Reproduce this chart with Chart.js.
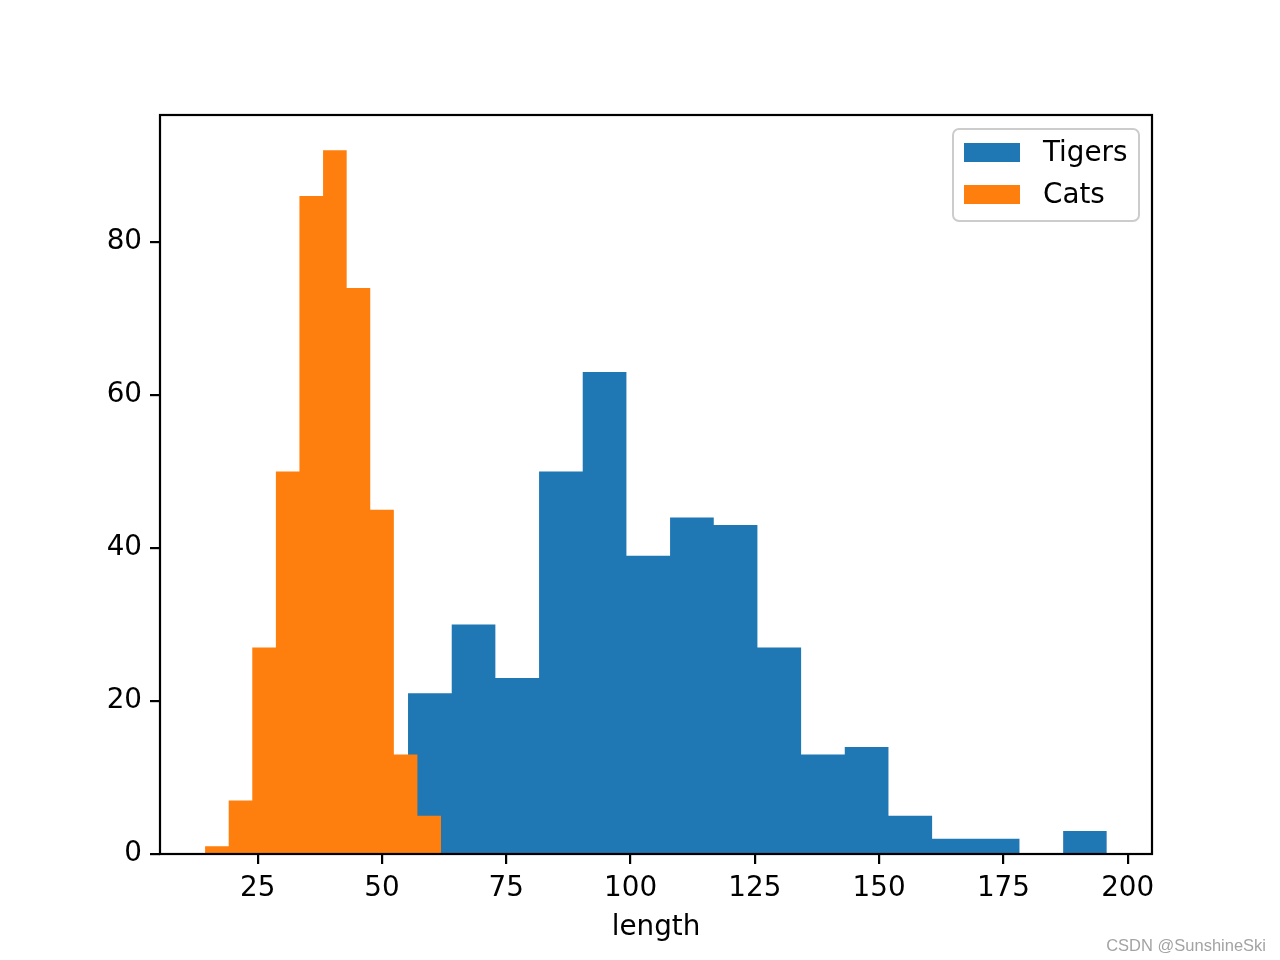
<!DOCTYPE html>
<html>
<head>
<meta charset="utf-8">
<title>Tigers and Cats</title>
<script src="https://cdn.jsdelivr.net/npm/chart.js@4/dist/chart.umd.min.js"></script>
<style>
    body { margin: 0; background: #fff; }
    .chart-container { width: 1280px; height: 960px; position: relative; }
</style>
</head>
<body>
<div class="chart-container"><canvas id="chart"></canvas></div>
<script>
// bin edges and counts
const tigerEdges = [55.24, 64.03, 72.81, 81.60, 90.38, 99.17, 107.95, 116.74, 125.52,
    134.31, 143.09, 151.88, 160.66, 169.45, 178.23, 187.02, 195.80];
const tigerCounts = [21, 30, 23, 50, 63, 39, 44, 43, 27, 13, 14, 5, 2, 2, 0, 3];
const catEdges = [14.42, 19.17, 23.91, 28.66, 33.40, 38.15, 42.90, 47.64, 52.39, 57.13, 61.88];
const catCounts = [1, 7, 27, 50, 86, 92, 74, 45, 13, 5];
const xTicks = [25, 50, 75, 100, 125, 150, 175, 200];
const yTicks = [0, 20, 40, 60, 80];
const seriesNames = ['Tigers', 'Cats'];
const xLabel = 'length';

const fontFamily = '"DejaVu Sans", sans-serif';
const fontSize = 27.8;

// histogram as a stepped line filled down to zero
const toSteps = (edges, counts) => {
    let points = [];
    counts.forEach((c, i) => {
        points.push({ x: edges[i], y: c });
    });
    points.push({ x: edges[edges.length - 1], y: counts[counts.length - 1] });
    return points;
}

const framePlugin = {
    id: 'frame',
    afterDatasetsDraw: (chart) => {
        const ctx = chart.ctx;
        const a = chart.chartArea;
        ctx.save();
        ctx.strokeStyle = '#000';
        ctx.lineWidth = 2.2;
        ctx.strokeRect(a.left, a.top, a.right - a.left, a.bottom - a.top);
        ctx.restore();
    },
    afterDraw: (chart) => {
        const ctx = chart.ctx;
        const a = chart.chartArea;
        const datasets = chart.data.datasets;
        // legend box, top right inside the axes
        const boxW = 186, boxH = 92;
        const bx = a.right - 13 - boxW;
        const by = a.top + 14;
        ctx.save();
        ctx.beginPath();
        ctx.roundRect(bx, by, boxW, boxH, 6);
        ctx.fillStyle = 'rgba(255,255,255,0.8)';
        ctx.fill();
        ctx.strokeStyle = '#cccccc';
        ctx.lineWidth = 2;
        ctx.stroke();
        ctx.font = fontSize + 'px ' + fontFamily;
        ctx.textBaseline = 'middle';
        ctx.fillStyle = '#000';
        datasets.forEach((ds, i) => {
            const cy = by + 23.5 + i * 42;
            ctx.fillStyle = ds.backgroundColor;
            ctx.fillRect(bx + 11, cy - 9.5, 56, 19);
            ctx.fillStyle = '#000';
            ctx.fillText(ds.label, bx + 90, cy + 1);
        });
        // watermark
        ctx.font = '16.5px "Liberation Sans", Arial, sans-serif';
        ctx.fillStyle = '#a3a3a3';
        ctx.textAlign = 'right';
        ctx.textBaseline = 'alphabetic';
        ctx.fillText('CSDN @SunshineSki', 1266, 951);
        ctx.restore();
    }
}

const chart = new Chart(document.getElementById('chart'), {
    type: 'line',
    data: {
        datasets: [
            {
                label: seriesNames[0],
                data: toSteps(tigerEdges, tigerCounts),
                backgroundColor: '#1f77b4',
                borderWidth: 0,
                pointRadius: 0,
                stepped: true,
                fill: 'origin',
                order: 2
            },
            {
                label: seriesNames[1],
                data: toSteps(catEdges, catCounts),
                backgroundColor: '#ff7f0e',
                borderWidth: 0,
                pointRadius: 0,
                stepped: true,
                fill: 'origin',
                order: 1
            }
        ]
    },
    options: {
        animation: false,
        responsive: true,
        maintainAspectRatio: false,
        layout: { padding: { left: 0, top: 115, right: 128, bottom: 0 } },
        plugins: {
            legend: { display: false },
            tooltip: { enabled: false }
        },
        scales: {
            x: {
                type: 'linear',
                min: 5.35,
                max: 204.89,
                afterBuildTicks: (axis) => { axis.ticks = xTicks.map((v) => ({ value: v })); },
                afterFit: (axis) => { axis.height = 106; },
                border: { display: false },
                grid: {
                    drawOnChartArea: false,
                    drawTicks: true,
                    tickLength: 10,
                    color: '#000',
                    lineWidth: 2.2
                },
                ticks: {
                    color: '#000',
                    padding: 8,
                    maxRotation: 0,
                    font: { family: fontFamily, size: fontSize }
                },
                title: {
                    display: true,
                    text: xLabel,
                    color: '#000',
                    padding: { top: 0, bottom: 16 },
                    font: { family: fontFamily, size: fontSize }
                }
            },
            y: {
                min: 0,
                max: 96.6,
                afterBuildTicks: (axis) => { axis.ticks = yTicks.map((v) => ({ value: v })); },
                afterFit: (axis) => { axis.width = 160; },
                border: { display: false },
                grid: {
                    drawOnChartArea: false,
                    drawTicks: true,
                    tickLength: 10,
                    color: '#000',
                    lineWidth: 2.2
                },
                ticks: {
                    color: '#000',
                    padding: 8,
                    font: { family: fontFamily, size: fontSize }
                }
            }
        }
    },
    plugins: [framePlugin]
});
</script>
</body>
</html>
